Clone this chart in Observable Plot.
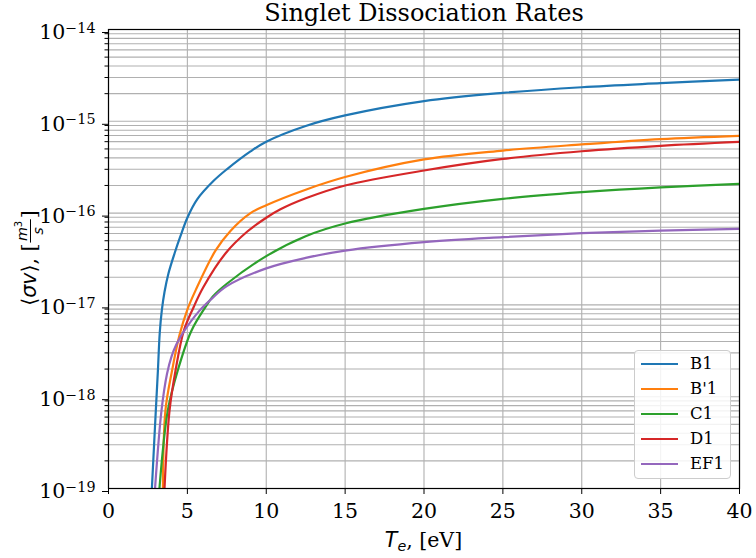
<!DOCTYPE html>
<html>
<head>
<meta charset="utf-8">
<script src="https://cdn.jsdelivr.net/npm/d3@7"></script>
<script src="https://cdn.jsdelivr.net/npm/@observablehq/plot@0.6"></script>
<style>
  body { margin: 0; background: #fff; }
  #wrap { position: relative; width: 756px; height: 558px; font-family: "DejaVu Serif", serif; }
  .legend { position: absolute; left: 634px; top: 350px; width: 97px; height: 129px;
            border: 1px solid #cccccc; border-radius: 4px; background: rgba(255,255,255,0.85);
            box-sizing: border-box; }
  .legend .sw { position: absolute; left: 6px; width: 37px; height: 2px; }
  .legend .lb { position: absolute; left: 55px; font-size: 16.5px; line-height: 20px; color: #000; white-space: nowrap; }
</style>
</head>
<body>
<div id="wrap"></div>
<script>
// ---- data ----
const seriesNames  = ["B1", "B'1", "C1", "D1", "EF1"];
const seriesColors = ["#1f77b4", "#ff7f0e", "#2ca02c", "#d62728", "#9467bd"];

const teB1   = [2.75, 3.0, 3.13, 3.25, 3.38, 3.55, 3.8, 4.2, 4.56, 5.0, 5.62, 6.68, 7.5, 9.0, 10, 12.5, 15, 20, 25, 30, 35, 40];
const rateB1 = [1e-19, 7.1e-19, 1.9e-18, 5.0e-18, 8.7e-18, 1.38e-17, 2.2e-17, 3.7e-17, 5.6e-17, 8.9e-17, 1.41e-16, 2.26e-16, 3.0e-16, 4.7e-16, 6.0e-16, 8.9e-16, 1.16e-15, 1.66e-15, 2.04e-15, 2.35e-15, 2.6e-15, 2.85e-15];

const teBp1   = [3.45, 3.61, 4.03, 4.5, 5.0, 5.52, 6.78, 7.73, 9.0, 10, 12.5, 15, 20, 25, 30, 35, 40];
const rateBp1 = [1e-19, 7.1e-19, 1.93e-18, 4.7e-18, 8.9e-18, 1.44e-17, 3.9e-17, 6.4e-17, 1.0e-16, 1.22e-16, 1.8e-16, 2.47e-16, 3.84e-16, 4.8e-16, 5.6e-16, 6.4e-16, 6.95e-16];

const teC1   = [3.23, 3.76, 4.39, 5.25, 6.15, 6.6, 7.5, 10, 12.5, 15, 20, 25, 30, 35, 40];
const rateC1 = [1e-19, 7.1e-19, 1.93e-18, 5.2e-18, 9.5e-18, 1.23e-17, 1.7e-17, 3.4e-17, 5.6e-17, 7.7e-17, 1.11e-16, 1.43e-16, 1.69e-16, 1.91e-16, 2.08e-16];

const teD1   = [3.55, 3.87, 4.25, 4.77, 5.4, 6.0, 7.45, 8.8, 10, 10.9, 12.5, 15, 20, 25, 30, 35, 40];
const rateD1 = [1e-19, 7.1e-19, 1.93e-18, 5.2e-18, 9.5e-18, 1.55e-17, 3.7e-17, 6.3e-17, 8.9e-17, 1.1e-16, 1.45e-16, 2.0e-16, 2.91e-16, 3.89e-16, 4.72e-16, 5.41e-16, 5.97e-16];

const teEF1   = [2.95, 3.36, 3.71, 4.0, 4.3, 4.8, 5.73, 6.55, 7.5, 10, 12.5, 15, 20, 25, 30, 35, 40];
const rateEF1 = [1e-19, 7.1e-19, 1.78e-18, 2.75e-18, 3.7e-18, 5.2e-18, 8.5e-18, 1.17e-17, 1.6e-17, 2.5e-17, 3.25e-17, 3.9e-17, 4.82e-17, 5.47e-17, 6.04e-17, 6.45e-17, 6.74e-17];

const xTicks = [0, 5, 10, 15, 20, 25, 30, 35, 40];
const yExponents = [-19, -18, -17, -16, -15, -14];

const titleText = "Singlet Dissociation Rates";

// ---- build tables ----
const seriesTe   = [teB1, teBp1, teC1, teD1, teEF1];
const seriesRate = [rateB1, rateBp1, rateC1, rateD1, rateEF1];
const rows = [];
seriesNames.forEach((name, i) => {
  seriesTe[i].forEach((t, j) => rows.push({series: name, T: t, v: seriesRate[i][j]}));
});
const yMajor = yExponents.map(e => Math.pow(10, e));
const yMinor = [];
yExponents.slice(0, -1).forEach(e => { for (let k = 2; k <= 9; k++) yMinor.push(k * Math.pow(10, e)); });
const yGrid = yMajor.concat(yMinor);

const gridStyle = {stroke: "#b0b0b0", strokeWidth: 1.1};

const chart = Plot.plot({
  width: 756,
  height: 558,
  marginLeft: 108,
  marginRight: 17,
  marginTop: 29,
  marginBottom: 70,
  style: {fontFamily: "DejaVu Serif, serif", fontSize: "20.5px", background: "white", color: "black"},
  x: {domain: [0, 40], label: null},
  y: {type: "log", domain: [1e-19, 1e-14], label: null},
  color: {domain: seriesNames, range: seriesColors},
  marks: [
    Plot.ruleX(xTicks, gridStyle),
    Plot.ruleY(yGrid, gridStyle),
    Plot.line(rows, {x: "T", y: "v", z: "series", stroke: "series", strokeWidth: 2.2, curve: "catmull-rom", clip: true}),
    Plot.frame({stroke: "black", strokeWidth: 1.2}),
    Plot.axisX(xTicks, {tickSize: 6, tickPadding: 9, tickFormat: d => String(d), label: null}),
    Plot.axisY(yMinor, {tickSize: 3.5, tickFormat: () => "", label: null}),
    Plot.axisY(yMajor, {tickSize: 6, tickPadding: 7, dy: 3, tickFormat: d => "10^" + Math.round(Math.log10(d)), label: null}),
    Plot.text([titleText], {frameAnchor: "top", lineAnchor: "bottom", dy: -9, fontSize: 24})
  ]
});

const wrap = document.getElementById("wrap");
wrap.appendChild(chart);

const svg = d3.select(chart);

// superscript exponents on y tick labels
svg.selectAll("text").each(function() {
  const s = this.textContent;
  if (/^10\^-?\d+$/.test(s)) {
    const exp = s.split("^")[1].replace("-", "\u2212");
    const t = d3.select(this);
    t.text(null);
    t.append("tspan").text("10");
    t.append("tspan").attr("dy", "-0.45em").attr("font-size", "14.3px").text(exp);
  }
});

const mathFont = "DejaVu Sans, sans-serif";

// x-axis label: T_e, [eV]
const xl = svg.append("text")
  .attr("x", 423.5).attr("y", 547)
  .attr("text-anchor", "middle")
  .attr("font-size", "20.5px")
  .attr("font-family", "DejaVu Serif, serif");
xl.append("tspan").attr("font-family", mathFont).attr("font-style", "italic").text("T");
xl.append("tspan").attr("font-family", mathFont).attr("font-style", "italic").attr("font-size", "14.3px").attr("dy", 4).text("e");
xl.append("tspan").attr("dy", -4).text(", [eV]");

// y-axis label: ⟨σv⟩, [m³/s]
const yl = svg.append("g").attr("transform", "translate(36,258) rotate(-90)");
const inner = yl.append("g").attr("text-anchor", "start");
const p1 = inner.append("text").attr("text-anchor", "start").attr("font-size", "20.5px").attr("font-family", mathFont);
p1.append("tspan").text("\u27E8");
p1.append("tspan").attr("font-style", "italic").text("\u03C3v");
p1.append("tspan").text("\u27E9");
p1.append("tspan").attr("font-family", "DejaVu Serif, serif").text(", [");
const w1 = p1.node().getComputedTextLength();

const num = inner.append("text").attr("text-anchor", "start").attr("font-family", mathFont).attr("font-size", "14.3px").attr("y", -9.5);
num.append("tspan").attr("font-style", "italic").text("m");
num.append("tspan").attr("font-size", "10px").attr("dy", -5).text("3");
const wn = num.node().getComputedTextLength();
const den = inner.append("text").attr("text-anchor", "start").attr("font-family", mathFont).attr("font-size", "14.3px").attr("font-style", "italic").attr("y", 6.5).text("s");
const wd = den.node().getComputedTextLength();
const fw = Math.max(wn, wd) + 3;
num.attr("x", w1 + 1 + (fw - wn) / 2);
den.attr("x", w1 + 1 + (fw - wd) / 2);
inner.append("line").attr("x1", w1 + 1).attr("x2", w1 + 1 + fw).attr("y1", -5.5).attr("y2", -5.5)
  .attr("stroke", "black").attr("stroke-width", 1);
const p3 = inner.append("text").attr("text-anchor", "start").attr("font-size", "20.5px").attr("font-family", "DejaVu Serif, serif")
  .attr("x", w1 + fw + 2).text("]");
const total = w1 + fw + 2 + p3.node().getComputedTextLength();
inner.attr("transform", `translate(${-total / 2},0)`);

// legend
const legend = document.createElement("div");
legend.className = "legend";
seriesNames.forEach((name, i) => {
  const cy = 13 + i * 25;
  const sw = document.createElement("div");
  sw.className = "sw";
  sw.style.top = (cy - 1) + "px";
  sw.style.background = seriesColors[i];
  const lb = document.createElement("div");
  lb.className = "lb";
  lb.style.top = (cy - 10) + "px";
  lb.textContent = name;
  legend.appendChild(sw);
  legend.appendChild(lb);
});
wrap.appendChild(legend);
</script>
</body>
</html>
